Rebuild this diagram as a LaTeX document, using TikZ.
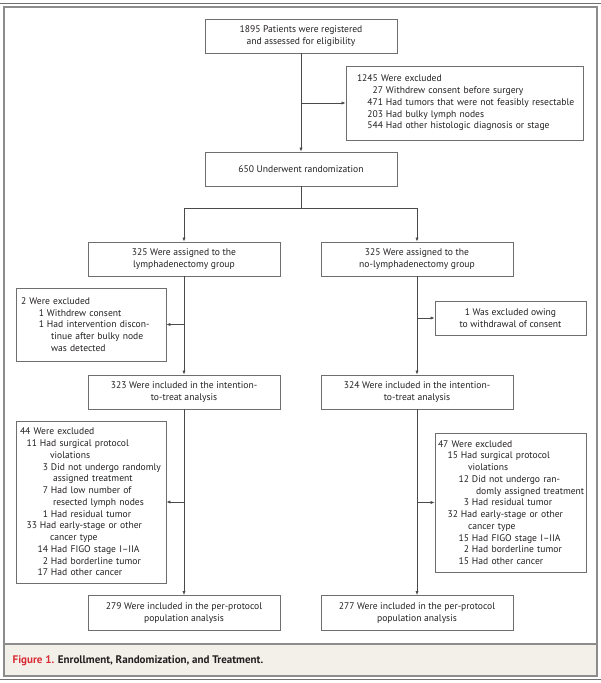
\documentclass[tikz,border=0pt]{standalone}
\usepackage{fontspec}
\setmainfont{PT Sans}
\usetikzlibrary{arrows.meta}
\definecolor{txt}{HTML}{231F20}
\definecolor{boxc}{HTML}{6E6E6E}
\definecolor{linec}{HTML}{4A4A4A}
\definecolor{capfill}{HTML}{F3F0EA}
\definecolor{capred}{HTML}{DA2A34}
\definecolor{framec}{HTML}{8C8C8C}
\newcommand{\nm}[3]{\mbox{\makebox[#1][r]{#2}\hspace{3pt}#3}}
\newcommand{\cn}[2]{\mbox{\hspace{#1}#2}}
\begin{document}
\begin{tikzpicture}[x=1pt,y=-1pt,
  box/.style={draw=boxc, line width=0.8pt, text=txt, font=\fontsize{9.6}{11.75}\selectfont, inner sep=0pt, align=center, minimum width=192pt, minimum height=34pt},
  exbox/.style={draw=boxc, line width=0.8pt, text=txt, font=\fontsize{9.6}{11.75}\selectfont, inner ysep=0pt, align=left},
  arr/.style={draw=linec, line width=0.7pt, -{Latex[length=4pt,width=3.2pt]}},
  ln/.style={draw=linec, line width=0.7pt}]
\useasboundingbox (0,0) rectangle (601,683);
% frame
\fill[capfill] (4,644) rectangle (597,676);
\draw[framec, line width=1.2pt] (4,7) rectangle (597,676);
\draw[framec, line width=1.2pt] (4,644) -- (597,644);
\draw[framec!80!black, line width=1.6pt] (0,3.6) -- (601,3.6);
\draw[framec!80!black, line width=1.6pt] (0,679.6) -- (601,679.6);

\node[box] (n1) at (301,36) {1895 Patients were registered\\and assessed for eligibility};
\node[exbox, text width=215pt, inner xsep=11pt, minimum height=74pt] (ex1) at (464.5,103) {1245 Were excluded\\
\nm{26pt}{27}{Withdrew consent before surgery}\\
\nm{26pt}{471}{Had tumors that were not feasibly resectable}\\
\nm{26pt}{203}{Had bulky lymph nodes}\\
\nm{26pt}{544}{Had other histologic diagnosis or stage}};
\node[box] (n2) at (301,169) {650 Underwent randomization};

\node[box] (l1) at (184,259) {325 Were assigned to the\\lymphadenectomy group};
\node[box] (r1) at (417,259) {325 Were assigned to the\\no-lymphadenectomy group};

\node[exbox, text width=140pt, inner xsep=5pt, minimum height=73pt] (lx1) at (91,324.5) {2 Were excluded\\
\nm{23pt}{1}{Withdrew consent}\\
\nm{23pt}{1}{Had intervention discon-}\\
\cn{30pt}{tinue after bulky node}\\
\cn{30pt}{was detected}};
\node[box, minimum width=151pt] (rx1) at (510.5,318) {1 Was excluded owing\\to withdrawal of consent};

\node[box] (l2) at (184,392) {323 Were included in the intention-\\to-treat analysis};
\node[box] (r2) at (417,392) {324 Were included in the intention-\\to-treat analysis};

\node[exbox, text width=142pt, inner xsep=4pt, minimum height=162pt] (lx2) at (91,502) {44 Were excluded\\
\nm{17pt}{11}{Had surgical protocol}\\
\cn{30pt}{violations}\\
\nm{28pt}{3}{Did not undergo randomly}\\
\cn{33pt}{assigned treatment}\\
\nm{28pt}{7}{Had low number of}\\
\cn{33pt}{resected lymph nodes}\\
\nm{28pt}{1}{Had residual tumor}\\
\nm{17pt}{33}{Had early-stage or other}\\
\cn{30pt}{cancer type}\\
\nm{28pt}{14}{Had FIGO stage I–IIA}\\
\nm{28pt}{2}{Had borderline tumor}\\
\nm{28pt}{17}{Had other cancer}};

\node[exbox, text width=145pt, inner xsep=3pt, minimum height=139pt] (rx2) at (510.5,502.5) {47 Were excluded\\
\nm{20pt}{15}{Had surgical protocol}\\
\cn{30pt}{violations}\\
\nm{31pt}{12}{Did not undergo ran-}\\
\cn{38pt}{domly assigned treatment}\\
\nm{31pt}{3}{Had residual tumor}\\
\nm{20pt}{32}{Had early-stage or other}\\
\cn{30pt}{cancer type}\\
\nm{31pt}{15}{Had FIGO stage I–IIA}\\
\nm{31pt}{2}{Had borderline tumor}\\
\nm{31pt}{15}{Had other cancer}};

\node[box, minimum height=35pt] (l3) at (184,613) {279 Were included in the per-protocol\\population analysis};
\node[box, minimum height=35pt] (r3) at (417,613) {277 Were included in the per-protocol\\population analysis};

% connectors
\draw[arr] (n1) -- (n2);
\draw[arr] (n1.south |- ex1.west) -- (ex1.west);
\coordinate (sp) at (301,208);
\draw[ln] (n2) -- (sp);
\draw[arr] (sp) -| (l1);
\draw[arr] (sp) -| (r1);
\draw[arr] (l1) -- (l2);
\draw[arr] (l1.south |- lx1.east) -- (lx1.east);
\draw[arr] (r1) -- (r2);
\draw[arr] (r1.south |- rx1.west) -- (rx1.west);
\draw[arr] (l2) -- (l3);
\draw[arr] (l2.south |- lx2.east) -- (lx2.east);
\draw[arr] (r2) -- (r3);
\draw[arr] (r2.south |- rx2.west) -- (rx2.west);

\node[anchor=base west, font=\fontsize{11}{13}\selectfont\bfseries, text=txt, inner sep=0pt] (cap) at (12.5,663.5) {\textcolor{capred}{Figure 1.} Enrollment, Randomization, and Treatment.};
\end{tikzpicture}
\end{document}
